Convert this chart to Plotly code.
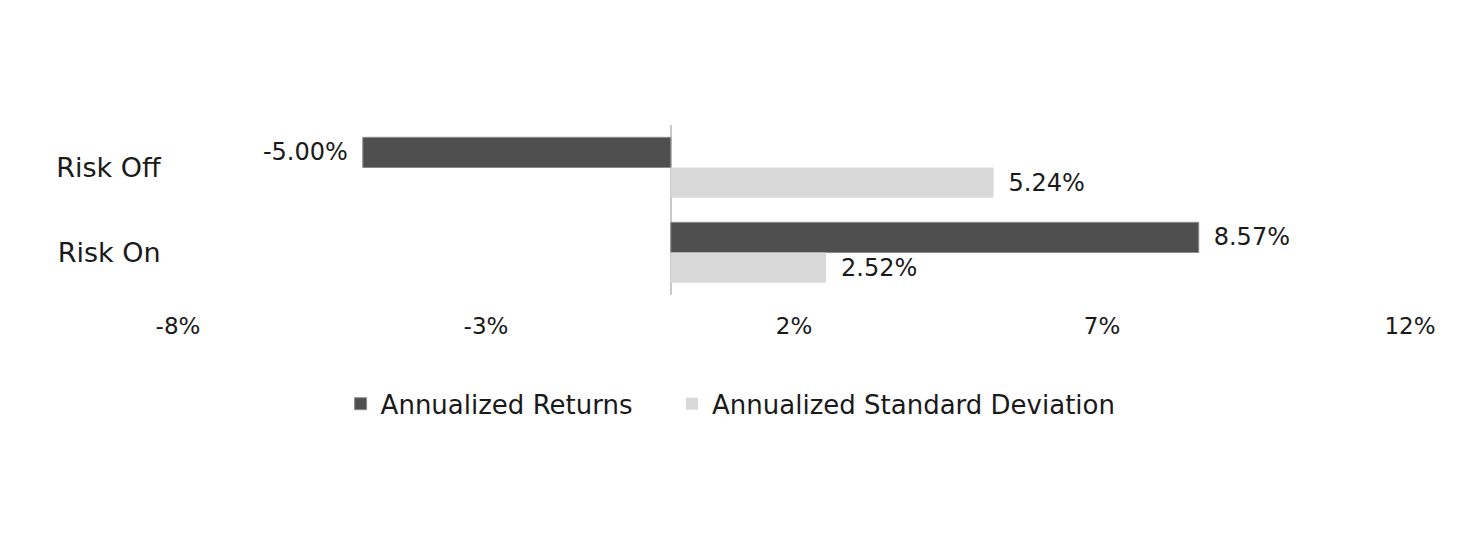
import plotly.graph_objects as go

categories = ["Risk Off", "Risk On"]
returns = [-5.00, 8.57]
std_dev = [5.24, 2.52]
tick_vals = [-8, -3, 2, 7, 12]
tick_text = ["-8%", "-3%", "2%", "7%", "12%"]

FONT = "DejaVu Sans, sans-serif"
TXT = "#1a1a1a"


def templates(vals):
    return ["%{x:.2f}%\u2002" if v < 0 else "\u2002%{x:.2f}%" for v in vals]


fig = go.Figure()
fig.add_trace(go.Bar(
    y=categories, x=returns, orientation="h", name="Annualized Returns",
    marker=dict(color="#4f4f4f", line=dict(color="#8a8a8a", width=1)),
    texttemplate=templates(returns), textposition="outside",
    textfont=dict(size=24, color=TXT, family=FONT), cliponaxis=False,
    legend="legend",
))
fig.add_trace(go.Bar(
    y=categories, x=std_dev, orientation="h", name="Annualized Standard Deviation",
    marker=dict(color="#d9d9d9", line=dict(color="#d9d9d9", width=0)),
    texttemplate=templates(std_dev), textposition="outside",
    textfont=dict(size=24, color=TXT, family=FONT), cliponaxis=False,
    legend="legend2",
))

leg_common = dict(orientation="h", yanchor="middle", y=-0.64, xanchor="left",
                  font=dict(size=26, color=TXT, family=FONT), itemwidth=30,
                  bgcolor="rgba(0,0,0,0)")

fig.update_layout(
    width=1459, height=542,
    margin=dict(l=170, r=57, t=117, b=255, autoexpand=False),
    paper_bgcolor="white", plot_bgcolor="white",
    barmode="group", bargap=0.29, bargroupgap=0.0,
    font=dict(family=FONT, size=24, color=TXT),
    showlegend=True,
    legend=dict(x=0.132, **leg_common),
    legend2=dict(x=0.401, **leg_common),
    xaxis=dict(range=[-8, 12], tickvals=tick_vals, ticktext=tick_text,
               showgrid=False, zeroline=True, zerolinecolor="#c8c8c8", zerolinewidth=2,
               showline=False, ticks="outside", ticklen=10, tickcolor="rgba(0,0,0,0)",
               tickfont=dict(size=23, color=TXT, family=FONT)),
    yaxis=dict(autorange="reversed", showgrid=False, showline=False,
               ticks="outside", ticklen=11, tickcolor="rgba(0,0,0,0)",
               tickfont=dict(size=27, color=TXT, family=FONT)),
)

fig.write_html("out.html")
